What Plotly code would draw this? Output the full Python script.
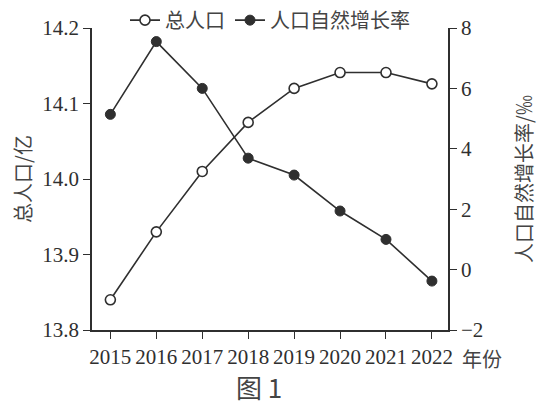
import plotly.graph_objects as go

years = [2015, 2016, 2017, 2018, 2019, 2020, 2021, 2022]
total_pop = [13.84, 13.93, 14.01, 14.075, 14.12, 14.141, 14.141, 14.126]
growth_rate = [5.14, 7.55, 6.0, 3.69, 3.13, 1.94, 1.0, -0.38]
left_ticks = [13.8, 13.9, 14.0, 14.1, 14.2]
left_tick_text = ["13.8", "13.9", "14.0", "14.1", "14.2"]
right_ticks = [-2, 0, 2, 4, 6, 8]
right_tick_text = ["\u22122", "0", "2", "4", "6", "8"]

INK = "#2f2f2f"
FONT = "Liberation Serif, Noto Sans CJK SC, serif"
CJK = "Noto Sans CJK SC"

fig = go.Figure()
fig.add_trace(go.Scatter(
    x=years, y=total_pop, name="总人口", mode="lines+markers",
    line=dict(color=INK, width=1.6),
    marker=dict(symbol="circle", size=10, color="white", line=dict(color=INK, width=1.6)),
    yaxis="y",
))
fig.add_trace(go.Scatter(
    x=years, y=growth_rate, name="人口自然增长率", mode="lines+markers",
    line=dict(color=INK, width=1.6),
    marker=dict(symbol="circle", size=10, color=INK, line=dict(color=INK, width=1)),
    yaxis="y2",
))

# page body has an 8px margin, so the figure is sized/offset to compensate
fig.update_layout(
    width=547, height=399,
    margin=dict(l=84, r=107, t=20, b=77, autoexpand=False),
    paper_bgcolor="white", plot_bgcolor="white",
    font=dict(family=FONT, color=INK, size=20),
    showlegend=True,
    legend=dict(orientation="h", x=0.5, xanchor="center",
                y=1.026, yanchor="middle", yref="paper",
                font=dict(size=20, family=CJK, color="#444"),
                itemwidth=30, tracegroupgap=0, bgcolor="rgba(0,0,0,0)"),
    xaxis=dict(range=[2014.6, 2022.35], tickmode="array", tickvals=years,
               ticktext=[str(y) for y in years],
               showline=True, linecolor=INK, linewidth=1.6, ticks="outside",
               ticklen=7, tickwidth=1.4, tickcolor=INK, showgrid=False, zeroline=False,
               tickfont=dict(size=21, family=FONT)),
    yaxis=dict(range=[13.8, 14.2], tickmode="array", tickvals=left_ticks,
               ticktext=left_tick_text,
               showline=True, linecolor=INK, linewidth=1.6, ticks="outside",
               ticklen=7, tickwidth=1.4, tickcolor=INK, showgrid=False, zeroline=False,
               tickfont=dict(size=21, family=FONT),
               title=dict(text="总人口/亿", font=dict(size=20, family=CJK, color="#444"), standoff=14)),
    yaxis2=dict(range=[-2, 8], tickmode="array", tickvals=right_ticks,
                ticktext=right_tick_text, overlaying="y", side="right",
                showline=True, linecolor=INK, linewidth=1.6, ticks="outside",
                ticklen=7, tickwidth=1.4, tickcolor=INK, showgrid=False, zeroline=False,
                tickfont=dict(size=21, family=FONT),
                title=dict(text="人口自然增长率/‰", font=dict(size=20, family=CJK, color="#444"), standoff=36)),
    annotations=[
        dict(text="年份", xref="paper", yref="paper", x=1.035, y=-0.04, xanchor="left",
             yanchor="top", showarrow=False, font=dict(size=20, family=CJK, color="#444")),
        dict(text="图 1", xref="paper", yref="paper", x=0.47, y=-0.118, xanchor="center",
             yanchor="top", showarrow=False, font=dict(size=26, family=CJK, color="#444")),
    ],
)

fig.write_html("out.html")
